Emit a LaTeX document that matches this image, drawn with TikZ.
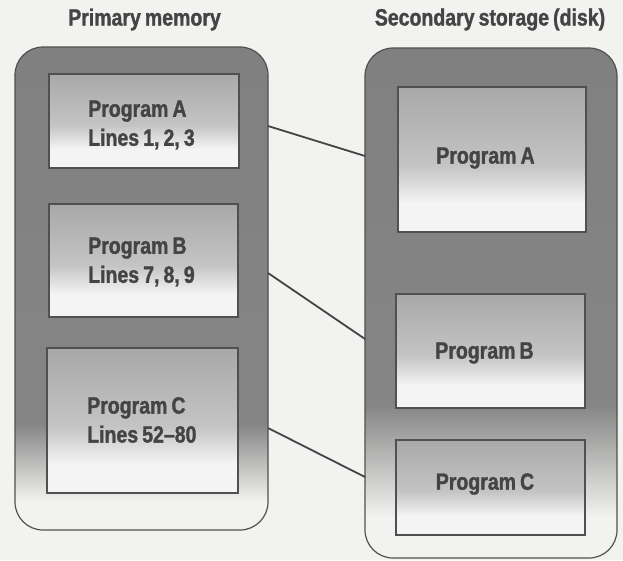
\documentclass[tikz,border=0pt]{standalone}
\usepackage{fontspec}
\setmainfont{Liberation Sans}[FakeStretch=0.83, WordSpace=0.75, BoldFeatures={FakeBold=1.3}]
\definecolor{bgc}{HTML}{F2F2F0}
\definecolor{contc}{HTML}{858585}
\definecolor{contc2}{HTML}{808080}
\definecolor{boxtop}{HTML}{A8A8A8}
\definecolor{boxmid}{HTML}{C4C4C4}
\definecolor{boxlow}{HTML}{F4F4F4}
\definecolor{edgec}{HTML}{505050}
\definecolor{txtc}{HTML}{444444}
\pgfdeclareverticalshading{contLsh}{100bp}{color(0bp)=(bgc); color(25bp)=(bgc); color(28bp)=(bgc); color(36bp)=(contc); color(75bp)=(contc2); color(100bp)=(contc2)}
\pgfdeclareverticalshading{contRsh}{100bp}{color(0bp)=(bgc); color(25bp)=(bgc); color(29bp)=(bgc); color(40bp)=(contc); color(75bp)=(contc2); color(100bp)=(contc2)}
\pgfdeclareverticalshading{boxsh}{100bp}{color(0bp)=(boxlow); color(25bp)=(boxlow); color(35bp)=(boxlow); color(48bp)=(boxmid); color(75bp)=(boxtop); color(100bp)=(boxtop)}
\tikzset{
  container/.style={draw=edgec, line width=1.2pt, rounded corners=28pt, inner sep=0pt},
  progbox/.style={draw=edgec, line width=1.2pt, shading=boxsh, inner sep=0pt},
  boxtext/.style={anchor=west, align=left, inner sep=0pt, text=txtc,
     font=\fontsize{23.5}{29}\selectfont\bfseries},
  title/.style={text=txtc, font=\fontsize{23.5}{28}\selectfont\bfseries, inner sep=0pt},
  link/.style={draw=edgec!85!black, line width=1.8pt}
}
\begin{document}
\begin{tikzpicture}[x=1pt,y=-1pt]
\useasboundingbox (0,0) rectangle (623,560);
\fill[bgc] (0,0) rectangle (623,560);
% titles
\node[title] (tL) at (144.5,19.5) {Primary memory};
\node[title] (tR) at (490,19.5) {Secondary storage (disk)};
% containers
\node[container, shading=contLsh, minimum width=253pt, minimum height=483pt] (L) at (141.5,288.5) {};
\node[container, shading=contRsh, minimum width=252pt, minimum height=510pt] (R) at (491,303) {};
% left boxes
\node[progbox, minimum width=190pt, minimum height=94pt] (LA) at (144,121) {};
\node[progbox, minimum width=189pt, minimum height=113pt] (LB) at (143.5,260.5) {};
\node[progbox, minimum width=191pt, minimum height=145pt] (LC) at (142.5,420.5) {};
\node[boxtext] (LAt) at (88,125) {Program A\\Lines 1, 2, 3};
\node[boxtext] (LBt) at (88,262) {Program B\\Lines 7, 8, 9};
\node[boxtext] (LCt) at (87,420) {Program C\\Lines 52--80};
% right boxes
\node[progbox, minimum width=188pt, minimum height=145pt] (RA) at (492,159.5) {};
\node[progbox, minimum width=189pt, minimum height=114pt] (RB) at (490.5,351) {};
\node[progbox, minimum width=189pt, minimum height=95pt] (RC) at (490.5,487.5) {};
\node[title] (RAt) at (485.5,158) {Program A};
\node[title] (RBt) at (484.5,353) {Program B};
\node[title] (RCt) at (485,484) {Program C};
% connector end points on container borders
\coordinate (l1) at (268,126);
\coordinate (r1) at (365,156);
\coordinate (l2) at (268,273);
\coordinate (r2) at (365,339);
\coordinate (l3) at (268,428);
\coordinate (r3) at (365,477);
\draw[link] (l1) -- (r1);
\draw[link] (l2) -- (r2);
\draw[link] (l3) -- (r3);
\end{tikzpicture}
\end{document}
